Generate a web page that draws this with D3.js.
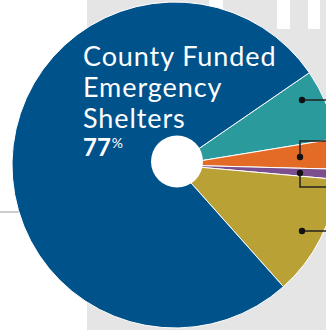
<!DOCTYPE html>
<html>
<head>
<meta charset="utf-8">
<script src="https://cdn.jsdelivr.net/npm/d3@7"></script>
<style>
body { margin: 0; background: #fff; }
svg { display: block; }
</style>
</head>
<body>
<svg id="view" width="326" height="330"></svg>
<script>
// slice order follows the chart, clockwise from the teal wedge
const categories = ['teal', 'orange', 'purple', 'gold', 'County Funded Emergency Shelters'];
const shares = [7, 3, 1, 12, 77];
const colors = ['#2a9a9d', '#e36b26', '#7b4f8d', '#b9a135', '#00528b'];
const titleLines = ['County Funded', 'Emergency', 'Shelters'];
// leader lines for the small slices: dot y and elbow y (labels sit off to the right)
const leaderDotY = [100, 157, 173, 231];
const leaderElbowY = [100, 141, 187, 231];

var view = d3.select('#view');
const W = 326, H = 330;
const CX = 175, CY = 165, R = 163;
const START = 55.5 * Math.PI / 180;

// grey panel and white tabs behind the pie
view.append('rect').attr('x', 87).attr('y', 0).attr('width', W - 87).attr('height', H).attr('fill', '#e5e5e5');
[[209, 14], [277, 13], [308, 12]].forEach(function(b) {
    view.append('rect').attr('x', b[0]).attr('y', 0).attr('width', b[1]).attr('height', 29).attr('fill', '#fff');
});
view.append('line').attr('x1', 0).attr('x2', 30).attr('y1', 212).attr('y2', 212)
    .attr('stroke', '#9a9a9a').attr('stroke-width', 1);

var pie = d3.pie().sort(null).value(d => d).startAngle(START).endAngle(START + 2 * Math.PI);
var arc = d3.arc().innerRadius(0).outerRadius(R);
var arcs = pie(shares);

var g = view.append('g').attr('transform', 'translate(' + CX + ',' + CY + ')');
g.selectAll('path.slice').data(arcs).enter().append('path')
    .attr('class', 'slice')
    .attr('d', arc)
    .attr('fill', (d, i) => colors[i])
    .attr('stroke', '#fff')
    .attr('stroke-width', 1);

// centre hole
view.append('circle').attr('cx', 177).attr('cy', 161.5).attr('r', 26).attr('fill', '#fff');

// leaders
leaderDotY.forEach(function(y, i) {
    var x = i == 0 || i == 3 ? 302 : 300;
    var path = 'M' + x + ',' + y + ' L' + x + ',' + leaderElbowY[i] + ' L' + W + ',' + leaderElbowY[i];
    view.append('path').attr('d', path).attr('fill', 'none')
        .attr('stroke', '#222').attr('stroke-width', 1.5);
    view.append('circle').attr('cx', x).attr('cy', y).attr('r', 3.2).attr('fill', '#111');
});

// title inside the big slice
var title = view.append('text').attr('fill', '#fff')
    .attr('font-family', 'Lato, sans-serif').attr('font-size', 27)
    .attr('letter-spacing', 0.9);
titleLines.forEach(function(t, i) {
    title.append('tspan').attr('x', 83).attr('y', 66 + i * 31).text(t);
});
var pct = view.append('text').attr('x', 83).attr('y', 156).attr('fill', '#fff')
    .attr('font-family', 'Lato, sans-serif').attr('font-weight', 'bold').attr('font-size', 24);
pct.append('tspan').text(shares[4]);
pct.append('tspan').attr('font-size', 14).attr('dy', -8).attr('dx', 1).attr('font-weight', 'normal').text('%');
</script>
</body>
</html>
